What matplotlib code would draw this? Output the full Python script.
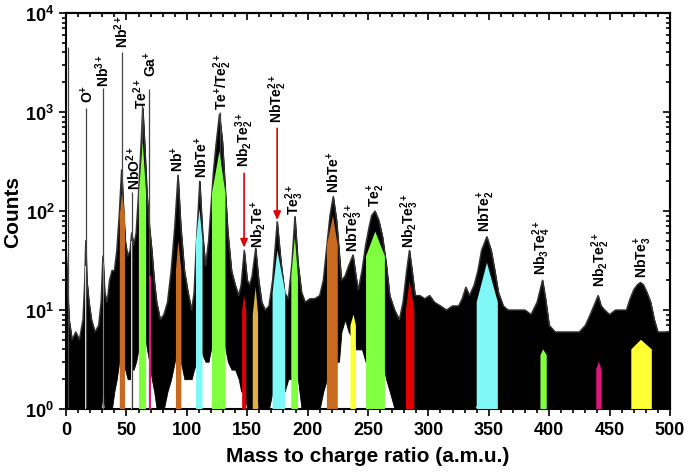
import matplotlib
matplotlib.use('Agg')
import numpy as np
from matplotlib import pyplot as plt
from matplotlib.ticker import MultipleLocator, LogLocator, NullFormatter, FuncFormatter

plt.rcParams['font.family'] = ['Liberation Sans', 'DejaVu Sans']
plt.rcParams['font.weight'] = 'bold'
plt.rcParams['mathtext.fontset'] = 'custom'
plt.rcParams['mathtext.rm'] = 'Liberation Sans:bold'
plt.rcParams['mathtext.bf'] = 'Liberation Sans:bold'
plt.rcParams['mathtext.it'] = 'Liberation Sans:bold'
plt.rcParams['mathtext.default'] = 'bf'

# spectrum envelope (m/z, upper counts, lower counts)
spec_mz = [0, 1, 2.5, 5, 8, 11, 14, 15.5, 16.3, 17.2, 19, 21, 24, 27, 29, 30.5, 32, 34, 36, 38,
           40, 42, 44, 46, 47.5, 49, 51, 53, 54.3, 56, 58, 60, 62, 63.5, 65, 67, 69, 71, 73, 75,
           78, 81, 84, 87, 90, 92.7, 95, 98, 101, 104, 106, 108, 110.7, 113, 115.5, 118, 120, 122,
           124, 127, 129.5, 132, 134, 137, 140, 143, 145, 147.5, 150, 152, 154, 157, 159.5, 162,
           165, 168, 171, 174.8, 178, 181, 184, 187, 189.5, 192, 195, 198, 202, 206, 210, 213,
           216, 218.5, 221.2, 224, 226, 228, 231, 234, 237.6, 240, 242, 245, 248, 251, 253, 255.8,
           259, 262, 265, 268, 272, 276, 279, 282, 284.3, 286.5, 289, 293, 297, 301, 305, 310,
           315, 320, 325, 328, 331, 334, 338, 341, 344, 348.4, 352, 355, 358, 362, 366, 370, 375,
           380, 385, 390, 394.5, 397, 400, 405, 410, 415, 420, 425, 430, 434, 437, 440.5, 443,
           446, 450, 455, 460, 464, 467, 470, 473, 475.5, 478, 481, 484, 487, 490, 495, 500]
spec_top = [40, 20, 8, 5, 6, 5, 8, 20, 50, 20, 12, 8, 6, 7, 12, 35, 15, 12, 20, 25,
            25, 40, 90, 260, 110, 50, 35, 40, 60, 45, 60, 150, 450, 1100, 500, 150, 70, 40, 20, 12,
            8, 9, 12, 25, 70, 230, 70, 25, 15, 10, 15, 50, 200, 60, 28, 50, 110, 250,
            450, 950, 500, 150, 60, 25, 18, 14, 18, 40, 20, 18, 22, 42, 20, 12,
            10, 11, 20, 78, 30, 15, 13, 30, 88, 30, 15, 12, 13, 13, 14, 20,
            45, 90, 140, 80, 40, 20, 22, 28, 36, 22, 16, 25, 45, 70, 90, 100,
            80, 55, 30, 14, 10, 8, 12, 25, 40, 25, 14, 14, 13, 14, 12, 11,
            10, 11, 11, 13, 17, 14, 18, 25, 40, 55, 40, 25, 15, 11, 10, 10, 10,
            10, 9, 12, 20, 13, 7, 6, 6, 6, 6, 6, 7, 9, 11, 14, 11,
            10, 9, 10, 10, 10, 13, 16, 18, 19, 18, 15, 12, 8, 6, 6, 6]
spec_bot = [1, 1, 1, 1, 1, 1, 1, 1, 1, 1, 1, 1, 1, 1, 1, 1.5, 1, 1, 1, 1,
            1.5, 2, 3, 4, 3, 2.5, 2, 2, 2.5, 2.5, 3, 4, 6, 8, 6, 4, 3, 2, 1.5, 1,
            1, 1, 1.5, 2, 3, 5, 3, 2, 2, 2, 2.5, 3, 5, 3.5, 3, 3, 4, 5,
            6, 8, 6, 4, 3, 2.5, 2.5, 2, 1.5, 1.5, 1, 1, 1, 1.5, 1, 1,
            1, 1, 1.5, 2, 2, 1.5, 2, 2, 2.5, 2, 1, 1, 1, 1, 1, 1.5,
            2, 3, 4, 3, 3, 6, 8, 6, 5, 4, 4, 4, 3, 3, 3, 3,
            3, 3, 2, 1.5, 1, 1, 1, 1, 1, 1, 1, 1, 1, 1, 1, 1,
            1, 1, 1, 1, 1, 1, 1, 1.2, 1.5, 2, 1.5, 1.2, 1, 1, 1, 1, 1,
            1, 1, 1, 1, 1, 1, 1, 1, 1, 1, 1, 1, 1, 1, 1, 1,
            1, 1, 1, 1, 1, 1, 1, 1, 1, 1, 1, 1, 1, 1, 1, 1]

# narrow tall spikes
spike_mz = [1.5, 16.3, 30.6, 46.0, 54.3, 63.3, 69.0, 127.3]
spike_h = [4500, 1100, 1750, 4000, 155, 1200, 1700, 1000]

# coloured peak assignments: low edge, high edge, apex position, apex height, shoulder height
peak_lo = [15.8, 30.2, 44.5, 53.8, 60.3, 68.5, 91.0, 107.6, 120.8, 145.8, 154.6, 171.0,
           186.5, 216.0, 235.5, 248.4, 281.4, 340.0, 392.8, 439.0, 468.0]
peak_hi = [16.8, 31.3, 48.8, 54.8, 66.3, 70.2, 95.5, 113.0, 132.0, 149.2, 159.0, 181.5,
           192.0, 225.0, 240.0, 264.0, 288.3, 357.5, 398.0, 443.5, 485.0]
peak_mz = [16.3, 30.7, 46.3, 54.3, 63.5, 69.3, 93.0, 110.5, 127.0, 147.5, 157.0, 175.0,
           189.5, 221.0, 238.0, 256.0, 284.5, 348.5, 395.0, 441.0, 476.0]
peak_h = [28, 30, 150, 50, 500, 22, 50, 105, 400, 14, 17, 40, 55, 90, 9, 62, 20, 30, 4, 3, 5]
peak_sh = [28, 30, 90, 50, 150, 22, 25, 50, 150, 10, 9, 15, 22, 45, 7, 35, 10, 12, 3.5, 2.5, 4]
peak_col = ['#80F8F8', '#C86A20', '#C86A20', '#80F8F8', '#80FF40', '#E0157A', '#C86A20',
            '#80F8F8', '#80FF40', '#E00000', '#E0B040', '#80F8F8', '#80FF40', '#C86A20',
            '#FFFF33', '#80FF40', '#E00000', '#80F8F8', '#80FF40', '#E0157A', '#FFFF33']

# labels: text, x position, bottom of label in counts
label_txt = [r'O$^{+}$', r'Nb$^{3+}$', r'Nb$^{2+}$', r'NbO$^{2+}$', r'Te$^{2+}$', r'Ga$^{+}$',
             r'Nb$^{+}$', r'NbTe$^{+}$', r'Te$^{+}$/Te$_2^{2+}$', r'Nb$_2$Te$_2^{3+}$',
             r'Nb$_2$Te$^{+}$', r'NbTe$_2^{2+}$', r'Te$_3^{2+}$', r'NbTe$^{+}$', r'NbTe$_3^{2+}$',
             r'Te$_2^{+}$', r'Nb$_2$Te$_3^{2+}$', r'NbTe$_2^{+}$', r'Nb$_3$Te$_4^{2+}$',
             r'Nb$_2$Te$_2^{2+}$', r'NbTe$_3^{+}$']
label_mz = [17.8, 30.5, 45.8, 56.0, 61.8, 70.0, 92.7, 112.0, 130.0, 148.0, 159.0, 175.6,
            189.5, 221.2, 238.4, 257.0, 284.8, 347.8, 394.0, 442.4, 478.0]
label_y = [1260, 1830, 4540, 167, 1100, 2300, 255, 220, 1070, 285, 43, 795, 93, 155, 39.5,
           112, 43, 63, 23, 17.5, 21.6]

# red arrows
arrow_mz = [147.4, 174.8]
arrow_from = [256, 730]
arrow_to = [40, 76]

fig = plt.figure(figsize=(6.85, 4.77), dpi=100)
ax = fig.add_axes([0.0964, 0.1405, 0.8816, 0.8301])
ax.set_yscale('log')

ax.fill_between(spec_mz, spec_bot, spec_top, color='black', lw=0.6, zorder=1)
ax.plot(spec_mz, spec_top, color='#333333', lw=1.0, zorder=1)
ax.vlines(spike_mz, 1, spike_h, color='#444444', lw=0.9, zorder=2)

for lo, hi, pm, ph, sh, c in zip(peak_lo, peak_hi, peak_mz, peak_h, peak_sh, peak_col):
    ax.fill([lo, lo, pm, hi, hi], [1, sh, ph, sh, 1], color=c, lw=0, zorder=3)

for t, m, y in zip(label_txt, label_mz, label_y):
    ax.text(m, y, t, rotation=90, ha='center', va='bottom', fontsize=10, fontweight='bold')

for m, y0, y1 in zip(arrow_mz, arrow_from, arrow_to):
    ax.annotate('', xy=(m, y1), xytext=(m, y0),
                arrowprops=dict(arrowstyle='-|>,head_width=0.22,head_length=0.5',
                                color='#E00000', lw=1.2))

ax.set_xlim(0, 500)
ax.set_ylim(1, 1e4)
ax.xaxis.set_major_locator(MultipleLocator(50))
ax.xaxis.set_minor_locator(MultipleLocator(10))
ax.yaxis.set_major_locator(LogLocator(base=10))
ax.yaxis.set_minor_locator(LogLocator(base=10, subs=np.arange(2, 10)))
ax.yaxis.set_minor_formatter(NullFormatter())
ax.yaxis.set_major_formatter(FuncFormatter(lambda v, p: r'10$^{%d}$' % round(np.log10(v))))
ax.tick_params(which='both', direction='out', labelsize=13, width=1.2)
ax.tick_params(which='major', length=5)
ax.tick_params(which='minor', length=3)
for s in ax.spines.values():
    s.set_linewidth(1.5)

top = ax.secondary_xaxis('top')
top.xaxis.set_major_locator(MultipleLocator(50))
top.xaxis.set_minor_locator(MultipleLocator(10))
top.tick_params(which='both', direction='in', labeltop=False, width=1.2)
top.tick_params(which='major', length=5)
top.tick_params(which='minor', length=3)
top.spines['top'].set_linewidth(1.5)

right = ax.secondary_yaxis('right')
right.yaxis.set_major_locator(LogLocator(base=10))
right.yaxis.set_minor_locator(LogLocator(base=10, subs=np.arange(2, 10)))
right.tick_params(which='both', direction='in', labelright=False, width=1.2)
right.tick_params(which='major', length=5)
right.tick_params(which='minor', length=3)
right.spines['right'].set_linewidth(1.5)

ax.set_xlabel('Mass to charge ratio (a.m.u.)', fontsize=15, fontweight='bold', labelpad=6)
ax.set_ylabel('Counts', fontsize=15, fontweight='bold', labelpad=2)

fig.savefig('out.png', dpi=100)
